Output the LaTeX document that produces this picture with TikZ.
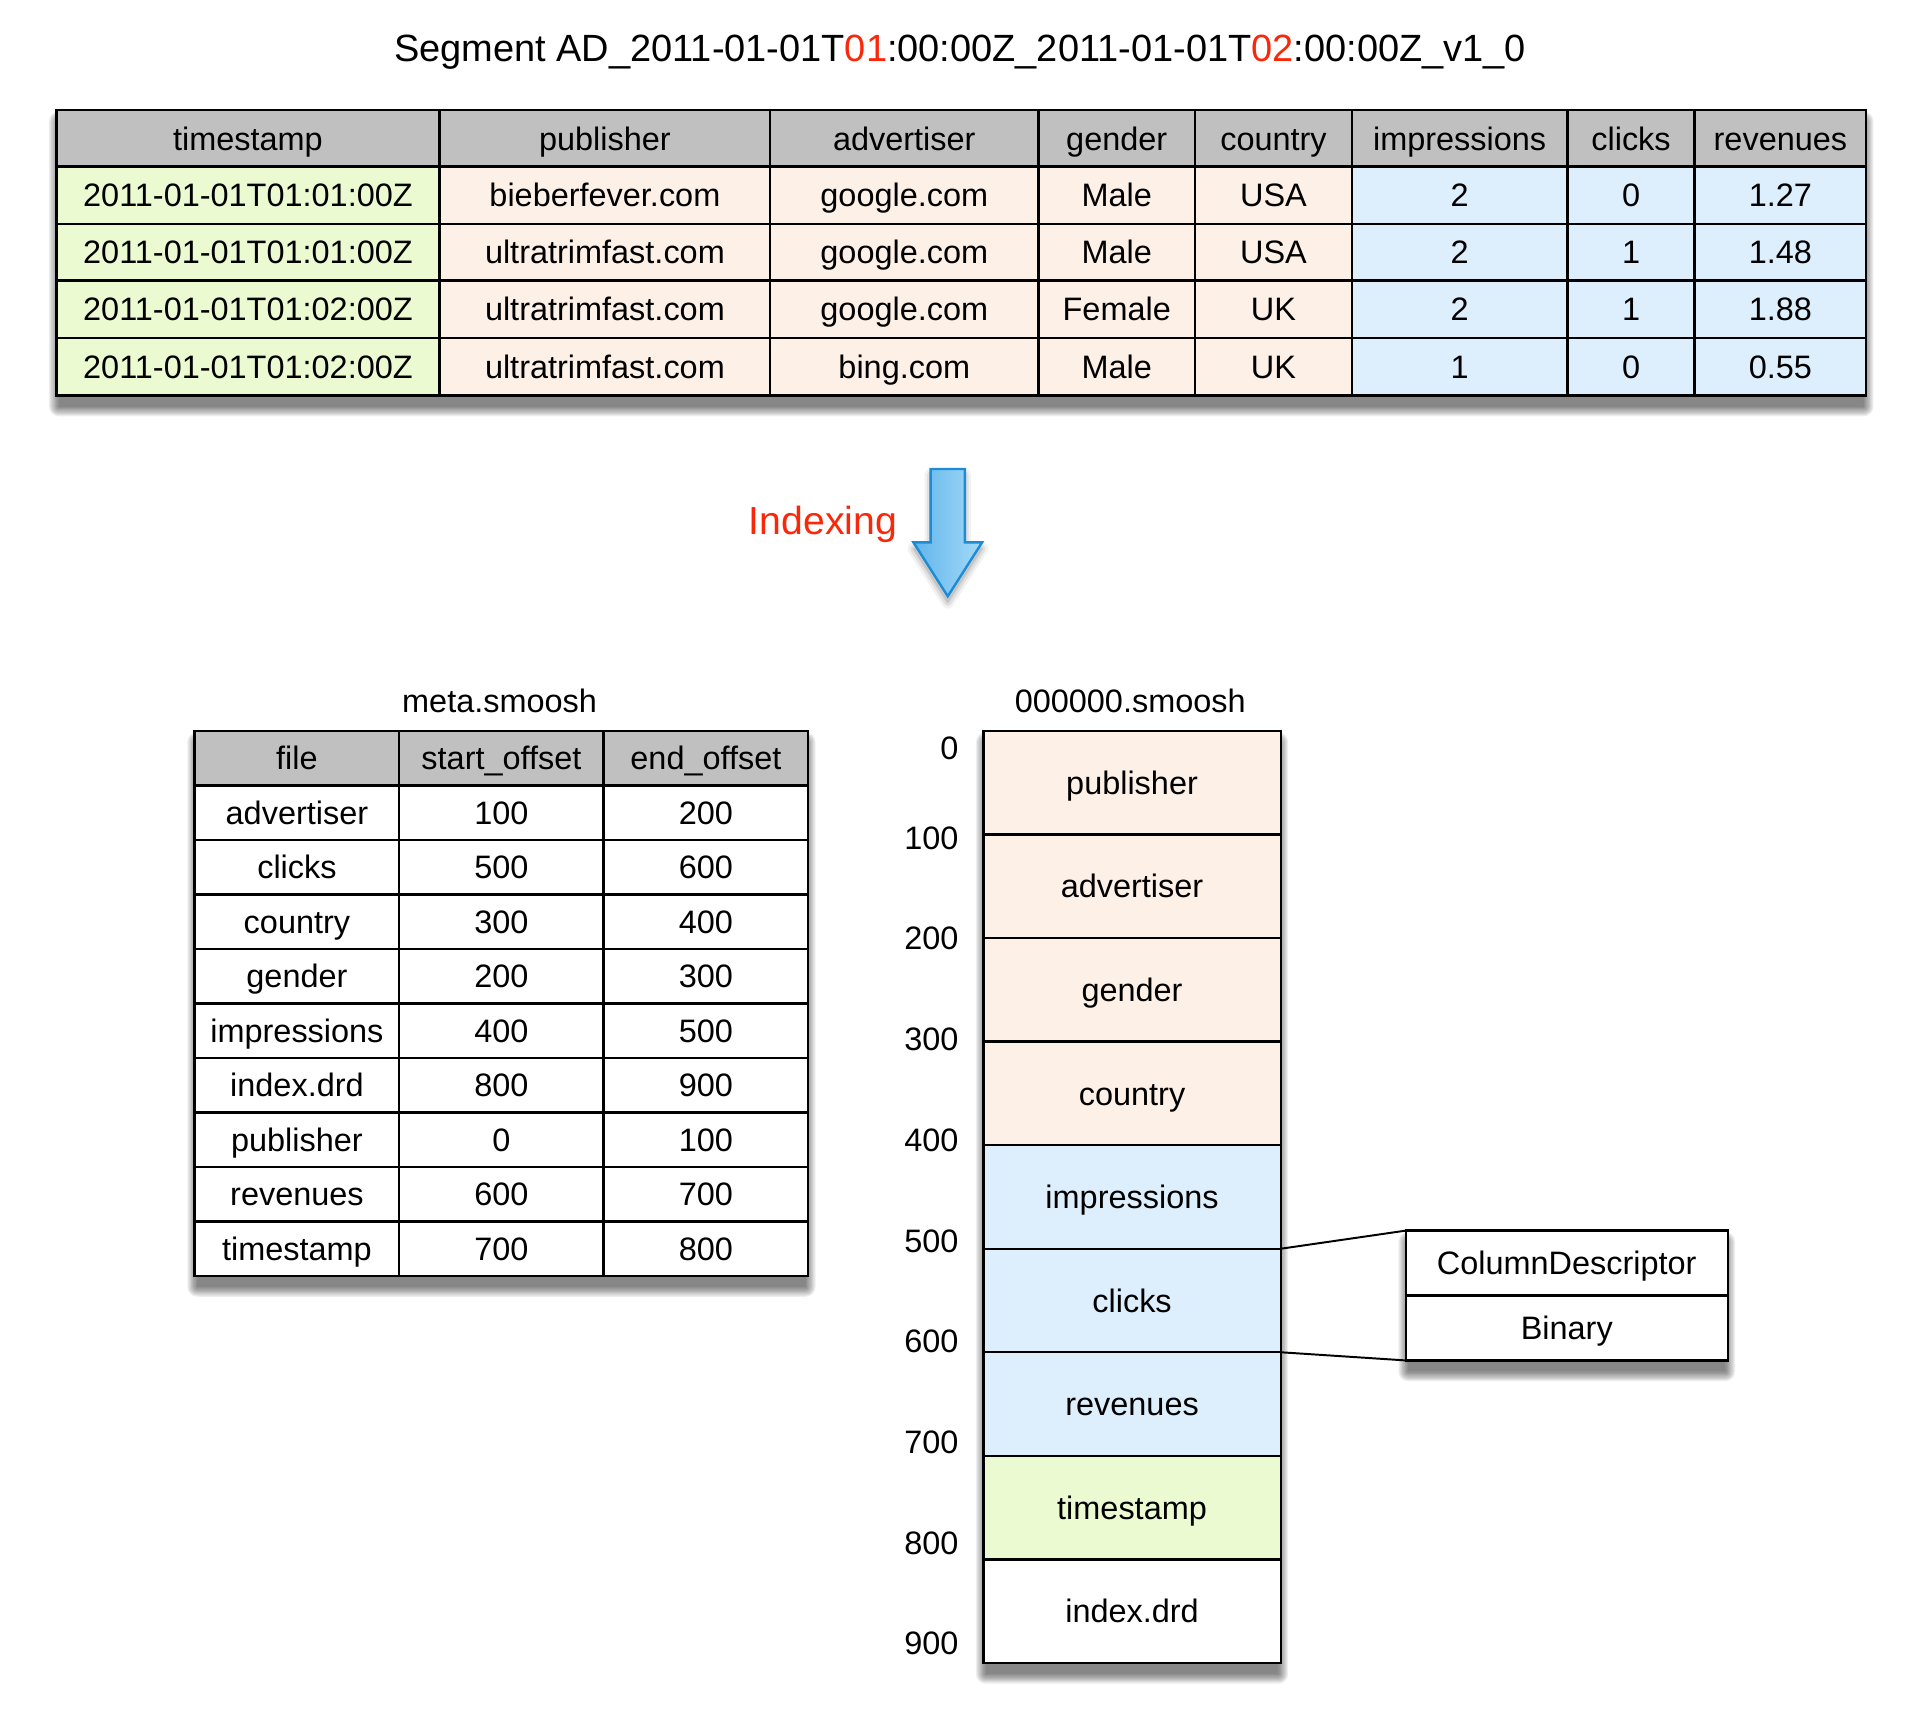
\documentclass[tikz,border=0pt]{standalone}
\usepackage{fontspec}
\setmainfont{Liberation Sans}
\definecolor{chead}{RGB}{192,192,192}
\definecolor{cgreen}{RGB}{236,250,210}
\definecolor{cpeach}{RGB}{253,240,231}
\definecolor{cblue}{RGB}{221,238,252}
\definecolor{cred}{RGB}{250,40,10}
\definecolor{arrowA}{RGB}{96,181,235}
\definecolor{arrowB}{RGB}{165,218,248}
\definecolor{arrowE}{RGB}{30,140,212}
\tikzset{
  cellbox/.style={draw, line width=2pt, outer sep=0pt, inner sep=0pt,
    text height=19pt, text depth=0pt, anchor=center,
    font=\fontsize{26.5}{30}\selectfont},
  plainlbl/.style={inner sep=0pt, text height=19pt, text depth=0pt,
    font=\fontsize{26.5}{30}\selectfont},
  conn/.style={line width=1.6pt},
}
\newcommand\mycell[7]{\node[cellbox, fill=#6, minimum width={#3-#2}, minimum height={#5-#4}] (#1) at ({(#2+#3)/2},{(#4+#5)/2}) {#7};}
\newcommand\softshadow[4]{\foreach \e in {0,1,...,8}{\fill[black,opacity=0.065,rounded corners={\e pt}] ({#1-\e+2},{#2-\e+9}) rectangle ({#3+\e-2},{#4+\e+9});}}
\newcommand\toprow[9]{%
\mycell{#1-1}{46}{359}{\ya}{\yb}{\colA}{#2}%
\mycell{#1-2}{359}{629}{\ya}{\yb}{\colB}{#3}%
\mycell{#1-3}{629}{848}{\ya}{\yb}{\colB}{#4}%
\mycell{#1-4}{848}{976}{\ya}{\yb}{\colB}{#5}%
\mycell{#1-5}{976}{1104}{\ya}{\yb}{\colB}{#6}%
\mycell{#1-6}{1104}{1280}{\ya}{\yb}{\colC}{#7}%
\mycell{#1-7}{1280}{1384}{\ya}{\yb}{\colC}{#8}%
\mycell{#1-8}{1384}{1524}{\ya}{\yb}{\colC}{#9}}
\newcommand\metarow[4]{%
\mycell{#1-1}{159}{326}{\ya}{\yb}{\colM}{#2}%
\mycell{#1-2}{326}{493}{\ya}{\yb}{\colM}{#3}%
\mycell{#1-3}{493}{660}{\ya}{\yb}{\colM}{#4}}
\begin{document}
\begin{tikzpicture}[x=1pt,y=-1pt]
\useasboundingbox[fill=white] (0,0) rectangle (1568,1411);

% title
\node[inner sep=0pt, font=\fontsize{31}{36}\selectfont] (title) at (784,43)
  {Segment AD\_2011-01-01T\textcolor{cred}{01}:00:00Z\_2011-01-01T\textcolor{cred}{02}:00:00Z\_v1\_0};

% shadows
\softshadow{46}{90}{1524}{323}
\softshadow{159}{597}{660}{1042}
\softshadow{803}{597}{1046}{1358}
\softshadow{1148}{1005}{1411}{1111}

% top table
\def\ya{90}\def\yb{136}\def\colA{chead}\def\colB{chead}\def\colC{chead}
\toprow{h}{timestamp}{publisher}{advertiser}{gender}{country}{impressions}{clicks}{revenues}
\def\ya{136}\def\yb{183}\def\colA{cgreen}\def\colB{cpeach}\def\colC{cblue}
\toprow{ra}{2011-01-01T01:01:00Z}{bieberfever.com}{google.com}{Male}{USA}{2}{0}{1.27}
\def\ya{183}\def\yb{229}
\toprow{rb}{2011-01-01T01:01:00Z}{ultratrimfast.com}{google.com}{Male}{USA}{2}{1}{1.48}
\def\ya{229}\def\yb{276}
\toprow{rc}{2011-01-01T01:02:00Z}{ultratrimfast.com}{google.com}{Female}{UK}{2}{1}{1.88}
\def\ya{276}\def\yb{323}
\toprow{rd}{2011-01-01T01:02:00Z}{ultratrimfast.com}{bing.com}{Male}{UK}{1}{0}{0.55}

% indexing arrow
\node[inner sep=0pt, text=cred, font=\fontsize{32}{36}\selectfont] (idx) at (672,428) {Indexing};
\foreach \w/\o in {10/0.05,6/0.07,2/0.08}{
  \draw[black, opacity=\o, line width=\w pt, line join=round, fill=black, fill opacity=0.02]
    (760,388) -- (788,388) -- (788,448) -- (802,448) -- (774,492) -- (746,448) -- (760,448) -- cycle;}
\shade[left color=arrowA, right color=arrowB]
  (760,383) -- (788,383) -- (788,443) -- (802,443) -- (774,487) -- (746,443) -- (760,443) -- cycle;
\draw[arrowE, line width=2pt, line join=miter]
  (760,383) -- (788,383) -- (788,443) -- (802,443) -- (774,487) -- (746,443) -- (760,443) -- cycle;

% meta.smoosh
\node[plainlbl] (metat) at (408,572) {meta.smoosh};
\foreach \a/\b/\c [count=\i from 0] in {file/start\_offset/end\_offset, advertiser/100/200, clicks/500/600, country/300/400, gender/200/300, impressions/400/500, index.drd/800/900, publisher/0/100, revenues/600/700, timestamp/700/800}{
  \pgfmathsetmacro\ya{597+44.5*\i}
  \pgfmathsetmacro\yb{\ya+44.5}
  \ifnum\i=0 \def\colM{chead}\else\def\colM{white}\fi
  \metarow{m\i}{\a}{\b}{\c}
}

% 000000.smoosh
\node[plainlbl] (smt) at (923,572) {000000.smoosh};
\foreach \t/\f [count=\i from 0] in {publisher/cpeach, advertiser/cpeach, gender/cpeach, country/cpeach, impressions/cblue, clicks/cblue, revenues/cblue, timestamp/cgreen, index.drd/white}{
  \pgfmathsetmacro\ya{597+84.556*\i}
  \pgfmathsetmacro\yb{\ya+84.556}
  \mycell{s\i}{803}{1046}{\ya}{\yb}{\f}{\t}
}
\node[plainlbl, anchor=east] (o0) at (783,611) {0};
\foreach \v [count=\i from 1] in {100,200,300,400,500,600,700,800,900}{
  \node[plainlbl, anchor=east] (o\i) at (783,{684+82.25*(\i-1)}) {\v};
}

% column descriptor
\mycell{cda}{1148}{1411}{1005}{1058}{white}{ColumnDescriptor}
\mycell{cdb}{1148}{1411}{1058}{1111}{white}{Binary}
\draw[conn] (s5.north east) -- (cda.north west);
\draw[conn] (s5.south east) -- (cdb.south west);
\end{tikzpicture}
\end{document}
